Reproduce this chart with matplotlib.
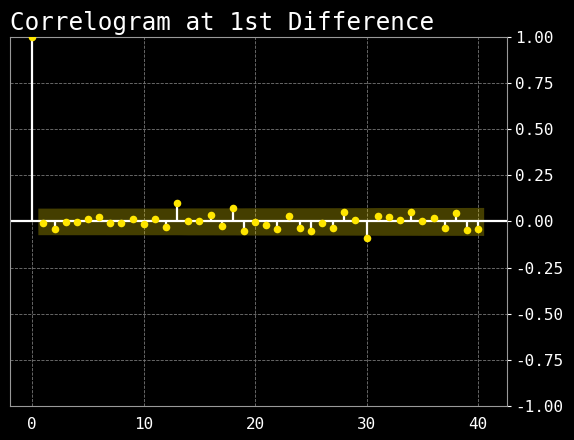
import numpy as np
import matplotlib
matplotlib.use("Agg")
import matplotlib.pyplot as plt

# autocorrelation of the 1st difference, lags 0..40
lags = list(range(41))
acf_vals = [1.0,
            -0.010, -0.042, -0.005, -0.004, 0.012, 0.023, -0.010, -0.010, 0.012, -0.015,
            0.012, -0.032, 0.099, 0.002, 0.002, 0.034, -0.026, 0.072, -0.053, -0.003,
            -0.020, -0.042, 0.029, -0.036, -0.052, -0.009, -0.036, 0.051, 0.008, -0.090,
            0.029, 0.024, 0.008, 0.051, 0.002, 0.018, -0.036, 0.046, -0.047, -0.042]
nobs = 740  # series length, sets the width of the confidence band

plt.rcParams['font.family'] = ['DejaVu Sans Mono']

acf = np.array(acf_vals)
# bartlett band, as statsmodels plot_acf draws it
se = np.ones(len(acf)) / np.sqrt(nobs)
se[2:] *= np.sqrt(1 + 2 * np.cumsum(acf[1:-1] ** 2))
half = 1.96 * se[1:]
band_x = np.array(lags[1:], dtype=float)
band_x[0] -= 0.5
band_x[-1] += 0.5

fig = plt.figure(figsize=(5.74, 4.4), dpi=100, facecolor='black')
ax = fig.add_axes([0.0174, 0.0773, 0.866, 0.839])
ax.set_facecolor('black')

ax.fill_between(band_x, -half, half, color='#ffe600', alpha=0.27, lw=0, zorder=1)
ax.axhline(0, color='white', lw=1.6, zorder=2)
ax.vlines(lags, 0, acf, color='white', lw=1.6, zorder=3)
ax.scatter(lags, acf, s=30, color='#ffe600', zorder=4, linewidths=0, clip_on=True)

ax.set_xlim(-2.0, 42.6)
ax.set_ylim(-1, 1)
ax.set_xticks([0, 10, 20, 30, 40])
ax.set_yticks([-1, -0.75, -0.5, -0.25, 0, 0.25, 0.5, 0.75, 1.0])
ax.set_yticklabels(['%.2f' % v for v in ax.get_yticks()])
ax.yaxis.tick_right()
ax.tick_params(axis='y', colors='white', labelsize=11.5, length=3, pad=3)
ax.tick_params(axis='x', colors='white', labelsize=11.5, length=0, pad=8)
ax.grid(True, color='#777777', linestyle='--', lw=0.6)
ax.set_axisbelow(True)
for s in ax.spines.values():
    s.set_color('#999999')

ax.set_title('Correlogram at 1st Difference', loc='left', color='white', fontsize=17.5, pad=5)

fig.savefig('out.png', dpi=100, facecolor='black')
